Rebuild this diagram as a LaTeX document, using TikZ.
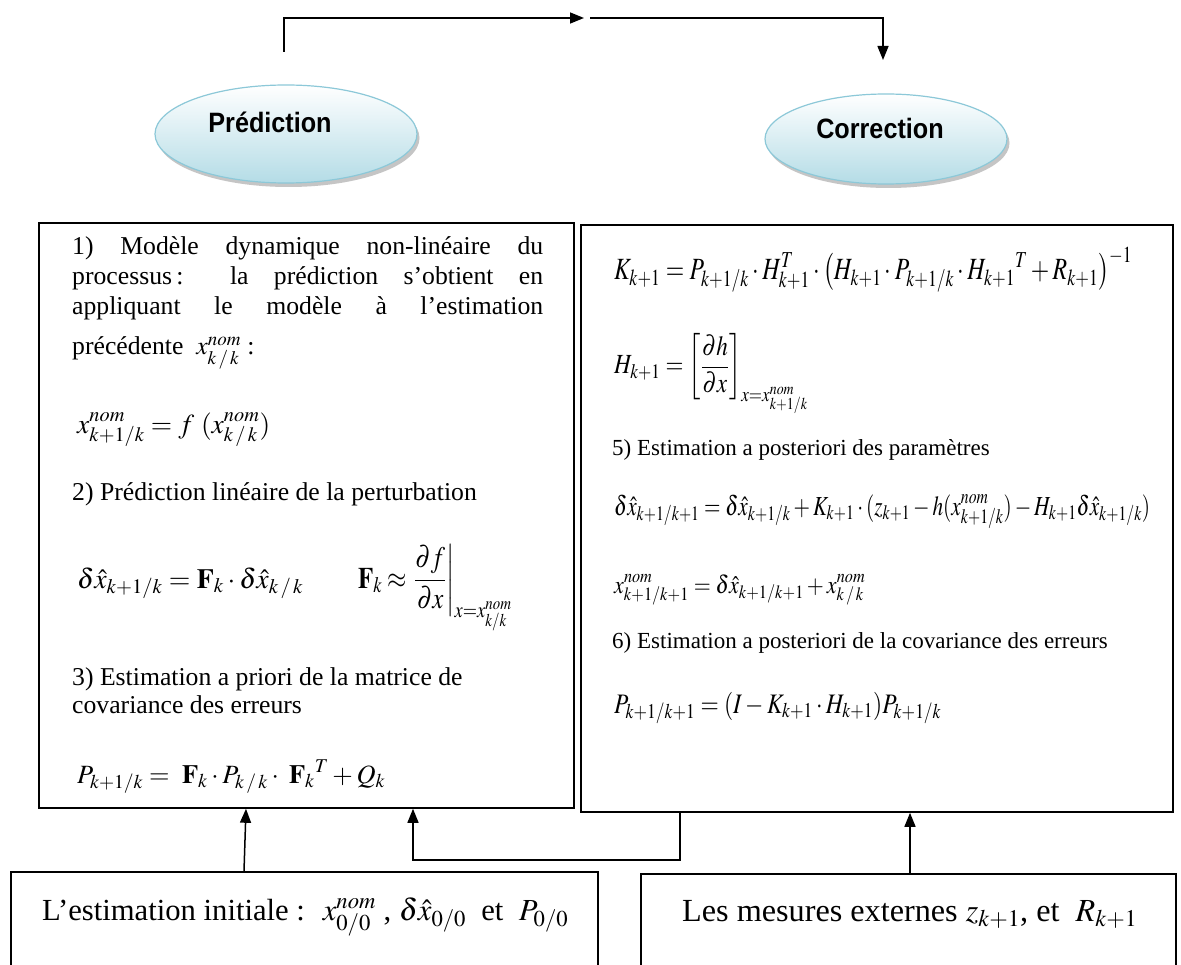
\documentclass[tikz,border=0pt]{standalone}
\usepackage{amsmath}
\usepackage{mathptmx}
\usepackage[no-math]{fontspec}
\setmainfont{Liberation Serif}
\newfontfamily\ellfont{Liberation Sans}[FakeStretch=0.9]
\usetikzlibrary{arrows.meta,shadows,calc,shapes.geometric}
\definecolor{ellborder}{RGB}{140,200,216}
\definecolor{ellfill}{RGB}{180,220,230}
\definecolor{shadowgray}{RGB}{140,140,140}
\newcommand{\lsz}{\fontsize{25.7}{30}\selectfont}
\newcommand{\rsz}{\fontsize{23}{30}\selectfont}
\newcommand{\jl}[1]{\makebox[471pt][s]{#1}}
\newcommand{\fm}[2]{\resizebox{#1}{!}{\fontsize{22}{26}\selectfont$\displaystyle #2$}}
\newcommand{\fmv}[3]{\scalebox{1}[#2]{\fm{#1}{#3}}}
\begin{document}
\begin{tikzpicture}[x=1pt,y=-1pt,
  phase/.style={ellipse,draw=ellborder,line width=1.2pt,
    top color=white,bottom color=ellfill,
    drop shadow={shadow xshift=2.5pt,shadow yshift=-4pt,fill=shadowgray},
    minimum width=262pt,minimum height=98pt,inner sep=0pt},
  phaselabel/.style={font=\ellfont\bfseries\fontsize{28}{30}\selectfont},
  bigbox/.style={draw,line width=1.8pt,inner sep=0pt},
  txt/.style={anchor=base west,inner sep=0pt,font=\lsz},
  rtxt/.style={anchor=base west,inner sep=0pt,font=\rsz},
  conn/.style={line width=1.5pt},
  arr/.style={conn,-{Triangle[length=14pt,width=11pt]}}
]
\useasboundingbox (0,0) rectangle (1181,965);
\fill[white] (0,0) rectangle (1181,965);

% ellipses
\node[phase] (pred) at (286,134) {};
\node[phaselabel] at (270,122) {Prédiction};
\node[phase,minimum width=242pt,minimum height=90pt] (corr) at (886,139) {};
\node[phaselabel] at (880,128) {Correction};

% top connector
\coordinate (t1) at (284,52);
\coordinate (tm) at (584,18);
\coordinate (tn) at (590,18);
\coordinate (t3) at (883,60);
\draw[arr] (t1) |- (tm);
\draw[arr] (tn) -| (t3);

% big boxes
\node[bigbox,minimum width=535pt,minimum height=585pt,anchor=north west] (lbox) at (38,222) {};
\node[bigbox,minimum width=592pt,minimum height=587pt,anchor=north west] (rbox) at (580,224) {};

% left box text
\node[txt] (l1) at (72,255) {\jl{1) Modèle dynamique non-linéaire du}};
\node[txt] (l2) at (72,285) {\jl{processus\,: la prédiction s’obtient en}};
\node[txt] (l3) at (72,315) {\jl{appliquant le modèle à l’estimation}};
\node[txt] (l4) at (72,355) {précédente \ $x^{nom}_{k\,/\,k}$ :};
\node[txt] (l5) at (77,433) {\fm{193pt}{x^{nom}_{k+1/k} = f\ (x^{nom}_{k\,/\,k})}};
\node[txt] (l6) at (72,500) {2) Prédiction linéaire de la perturbation};
\node[txt] (l7) at (77,588) {\fm{226pt}{\delta\hat{x}_{k+1/k} = \mathbf{F}_{k}\cdot\delta\hat{x}_{k\,/\,k}}};
\node[txt] (l8) at (358,588) {\fmv{154pt}{1.2}{\mathbf{F}_{k} \approx \left.\frac{\partial f}{\partial x}\right|_{x=x^{nom}_{k/k}}}};
\node[txt] (l9) at (72,685) {3) Estimation a priori de la matrice de};
\node[txt] (l10) at (72,713) {covariance des erreurs};
\node[txt] (l11) at (77,783) {\fm{308pt}{P_{k+1/k} = \ \mathbf{F}_{k}\cdot P_{k\,/\,k}\cdot\ {\mathbf{F}_{k}}^{T} + Q_{k}}};

% right box text
\node[rtxt] (r1) at (614,280) {\fmv{518pt}{1.3}{K_{k+1} = P_{k+1/k}\cdot H^{T}_{k+1}\cdot\bigl(H_{k+1}\cdot P_{k+1/k}\cdot {H_{k+1}}^{T}+R_{k+1}\bigr)^{-1}}};
\node[rtxt] (r2) at (614,374) {\fmv{194pt}{1.2}{H_{k+1} = \left[\frac{\partial h}{\partial x}\right]_{x=x^{nom}_{k+1/k}}}};
\node[rtxt] (r3) at (612,455) {5) Estimation a posteriori des paramètres};
\node[rtxt] (r4) at (614,515) {\fmv{536pt}{1.3}{\delta\hat{x}_{k+1/k+1} = \delta\hat{x}_{k+1/k} + K_{k+1}\cdot(z_{k+1} - h(x^{nom}_{k+1/k}) - H_{k+1}\delta\hat{x}_{k+1/k})}};
\node[rtxt] (r5) at (614,593) {\fmv{251pt}{1.15}{x^{nom}_{k+1/k+1} = \delta\hat{x}_{k+1/k+1} + x^{nom}_{k\,/\,k}}};
\node[rtxt] (r6) at (612,648) {6) Estimation a posteriori de la covariance des erreurs};
\node[rtxt] (r7) at (614,713) {\fmv{327pt}{1.2}{P_{k+1/k+1} = (I - K_{k+1}\cdot H_{k+1})P_{k+1/k}}};

% bottom boxes
\node[bigbox,minimum width=587pt,minimum height=110pt,anchor=north west] (init) at (10,871) {};
\node[bigbox,minimum width=535pt,minimum height=110pt,anchor=north west] (meas) at (640,873) {};
\node[txt] (it) at (42,920) {\resizebox{526pt}{!}{\fontsize{30}{34}\selectfont L’estimation initiale : \ $x^{nom}_{0/0}$ , $\delta\hat{x}_{0/0}$ \ et \ $P_{0/0}$}};
\node[txt] (mt) at (682,921) {\resizebox{455pt}{!}{\fontsize{36}{40}\selectfont Les mesures externes $z_{k+1}$, et \ $R_{k+1}$}};

% bottom connectors
\draw[arr] (init.north -| 244,0) -- (lbox.south -| 246,0);
\coordinate (b1) at (680,860);
\draw[arr] (rbox.south -| 680,0) |- (b1 -| 413,0) -- (lbox.south -| 413,0);
\draw[arr] (meas.north -| 910,0) -- (rbox.south -| 910,0);
\end{tikzpicture}
\end{document}
